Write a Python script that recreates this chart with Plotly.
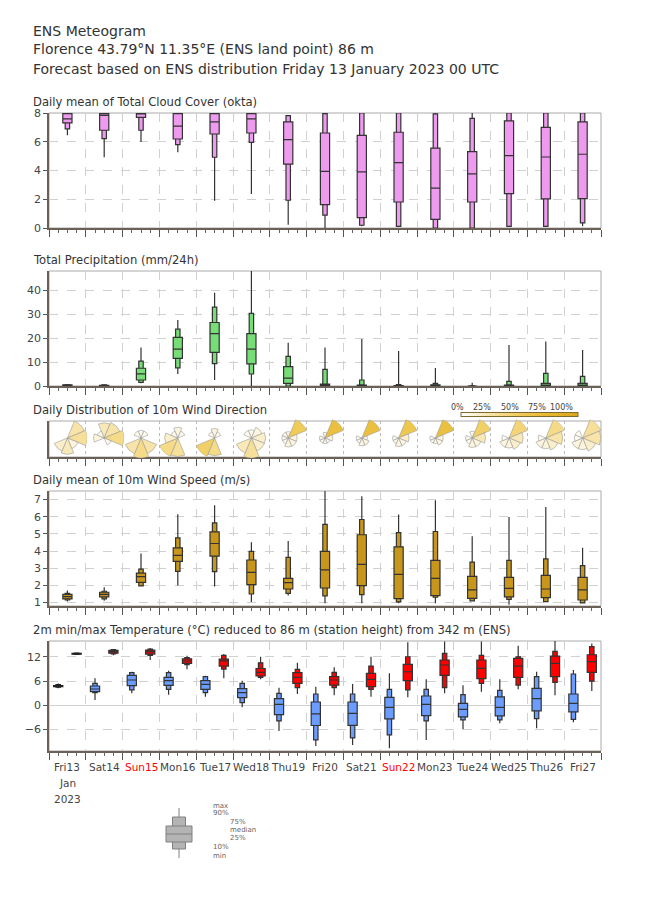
import plotly.graph_objects as go

W, H = 650, 916

days = ["Fri13", "Sat14", "Sun15", "Mon16", "Tue17", "Wed18", "Thu19", "Fri20",
        "Sat21", "Sun22", "Mon23", "Tue24", "Wed25", "Thu26", "Fri27"]

# ensemble percentiles per day: min, p10, p25, median, p75, p90, max
cloud = [
    [6.45, 6.89, 7.31, 7.59, 7.95, 8.0, 8.0],
    [4.92, 6.22, 6.80, 7.84, 7.96, 8.0, 8.0],
    [5.99, 6.80, 7.70, 7.96, 8.0, 8.0, 8.0],
    [5.27, 5.80, 6.19, 7.08, 7.96, 8.0, 8.0],
    [1.90, 4.92, 6.54, 7.38, 7.96, 8.0, 8.0],
    [2.37, 5.96, 6.61, 7.59, 7.96, 8.0, 8.0],
    [0.23, 1.93, 4.45, 6.15, 7.38, 7.82, 7.82],
    [0.0, 0.90, 1.62, 3.94, 6.61, 7.96, 8.0],
    [0.12, 0.19, 0.72, 3.90, 6.45, 8.0, 8.0],
    [0.07, 0.12, 1.81, 4.55, 6.66, 8.0, 8.0],
    [0.0, 0.0, 0.60, 2.78, 5.55, 7.94, 8.0],
    [0.0, 0.0, 1.81, 3.76, 5.31, 7.63, 8.0],
    [0.12, 0.12, 2.39, 5.03, 7.45, 8.0, 8.0],
    [0.12, 0.12, 2.02, 4.94, 7.00, 8.0, 8.0],
    [0.12, 0.35, 2.04, 5.13, 7.38, 8.0, 8.0],
]

precip = [
    [0.0, 0.1, 0.2, 0.3, 0.5, 0.6, 0.8],
    [0.0, 0.0, 0.1, 0.2, 0.3, 0.5, 0.7],
    [1.1, 1.5, 2.5, 5.1, 7.4, 10.4, 16.1],
    [5.0, 7.6, 11.5, 15.4, 20.3, 23.7, 27.5],
    [2.5, 9.3, 14.0, 21.9, 26.5, 32.9, 38.9],
    [0.0, 5.0, 9.2, 15.4, 21.9, 30.3, 50.0],
    [0.0, 0.0, 1.1, 3.3, 8.1, 12.4, 18.1],
    [0.0, 0.0, 0.0, 0.4, 0.8, 6.9, 16.1],
    [0.0, 0.0, 0.0, 0.1, 0.4, 2.5, 19.6],
    [0.0, 0.0, 0.0, 0.0, 0.2, 0.6, 14.6],
    [0.0, 0.0, 0.0, 0.0, 0.5, 1.1, 7.5],
    [0.0, 0.0, 0.0, 0.0, 0.0, 0.1, 1.4],
    [0.0, 0.0, 0.0, 0.0, 0.4, 1.9, 17.1],
    [0.0, 0.0, 0.0, 0.0, 1.1, 5.3, 18.6],
    [0.0, 0.0, 0.0, 0.0, 1.1, 4.0, 15.0],
]

wind = [
    [1.06, 1.15, 1.21, 1.35, 1.48, 1.54, 1.70],
    [1.10, 1.21, 1.33, 1.48, 1.60, 1.66, 1.89],
    [1.93, 1.97, 2.18, 2.51, 2.72, 2.95, 3.86],
    [1.99, 2.82, 3.40, 3.75, 4.19, 4.77, 6.15],
    [1.93, 2.80, 3.71, 4.44, 5.12, 5.64, 6.67],
    [1.04, 1.50, 2.05, 2.76, 3.48, 3.98, 4.52],
    [1.41, 1.54, 1.79, 2.16, 2.41, 3.63, 4.58],
    [0.96, 1.39, 1.85, 2.90, 3.98, 5.55, 7.60],
    [0.96, 1.46, 1.99, 3.23, 4.95, 5.84, 7.19],
    [0.96, 1.04, 1.23, 2.64, 4.25, 5.08, 6.13],
    [0.96, 1.31, 1.41, 2.41, 3.46, 5.14, 6.96],
    [1.06, 1.10, 1.25, 1.74, 2.53, 3.36, 4.87],
    [0.88, 1.19, 1.33, 1.83, 2.47, 3.46, 5.99],
    [1.02, 1.06, 1.29, 1.79, 2.59, 3.55, 6.57],
    [0.94, 0.98, 1.15, 1.74, 2.47, 3.15, 4.19],
]

tmin = [
    [4.2, 4.5, 4.6, 4.8, 4.9, 5.1, 5.4],
    [1.3, 3.13, 3.37, 4.03, 4.77, 5.43, 6.67],
    [2.96, 3.79, 4.86, 6.26, 7.4, 8.07, 8.3],
    [2.63, 3.95, 4.94, 6.1, 6.9, 8.07, 8.56],
    [2.14, 3.13, 3.95, 5.19, 6.1, 7.08, 7.33],
    [-0.49, 0.66, 1.89, 3.13, 4.11, 5.43, 6.1],
    [-6.34, -3.87, -2.3, 0.25, 1.65, 2.96, 4.36],
    [-10.04, -8.56, -5.0, -2.14, 0.82, 2.8, 4.6],
    [-9.79, -8.07, -4.94, -1.98, 0.82, 2.8, 5.27],
    [-10.6, -7.33, -3.37, -0.49, 1.98, 3.95, 7.9],
    [-8.56, -3.87, -2.55, 0.25, 2.3, 3.95, 6.42],
    [-5.93, -3.62, -2.88, -0.99, 0.49, 2.63, 4.94],
    [-4.44, -3.62, -2.63, -0.49, 2.06, 3.7, 6.42],
    [-5.68, -3.29, -1.4, 1.65, 4.2, 7.08, 8.3],
    [-4.2, -3.46, -1.65, 0.49, 2.8, 7.74, 8.72],
]

tmax = [
    [12.5, 12.6, 12.65, 12.76, 12.85, 12.9, 13.0],
    [12.35, 12.7, 12.9, 13.25, 13.6, 13.75, 13.8],
    [11.2, 12.35, 12.67, 13.25, 13.66, 13.9, 14.2],
    [8.9, 10.04, 10.37, 10.95, 11.5, 11.77, 12.26],
    [6.67, 8.97, 9.7, 11.0, 11.44, 12.35, 12.67],
    [6.42, 6.9, 7.24, 8.15, 9.1, 10.5, 12.0],
    [2.8, 4.36, 5.43, 6.9, 8.07, 8.9, 10.53],
    [2.47, 4.36, 5.0, 6.26, 7.08, 8.15, 9.38],
    [2.14, 3.95, 4.6, 6.42, 7.9, 9.7, 12.0],
    [1.98, 3.79, 6.1, 8.3, 10.1, 12.0, 15.6],
    [2.96, 4.36, 7.4, 9.96, 11.2, 12.84, 15.8],
    [3.37, 5.43, 6.58, 9.14, 11.2, 12.35, 15.8],
    [3.95, 5.0, 6.9, 9.7, 11.6, 12.0, 14.7],
    [2.47, 5.68, 7.08, 10.37, 12.18, 13.33, 15.97],
    [3.54, 6.0, 8.15, 10.8, 12.5, 14.5, 15.3],
]

# wind direction frequency (%) per sector N, NE, E, SE, S, SW, W, NW
sectors = [0, 45, 90, 135, 180, 225, 270, 315]
wdir = [
    [0, 25, 30, 10, 20, 15, 0, 0],
    [20, 25, 35, 5, 0, 0, 10, 5],
    [5, 5, 0, 25, 35, 25, 0, 5],
    [10, 5, 0, 0, 30, 35, 15, 5],
    [10, 5, 0, 0, 35, 45, 0, 5],
    [5, 10, 15, 15, 30, 20, 0, 5],
    [5, 50, 10, 10, 10, 5, 5, 5],
    [5, 65, 10, 5, 5, 5, 5, 0],
    [0, 65, 5, 10, 10, 5, 5, 0],
    [0, 55, 15, 10, 10, 5, 5, 0],
    [0, 65, 10, 10, 5, 5, 5, 0],
    [5, 45, 20, 10, 10, 5, 5, 0],
    [0, 40, 20, 15, 10, 10, 5, 0],
    [0, 35, 25, 15, 10, 10, 5, 0],
    [0, 30, 25, 15, 10, 10, 5, 5],
]
pct_ticks = [0, 25, 50, 75, 100]

# schematic legend box
legend_vals = [0, 9, 16, 24, 32, 41, 50]
legend_text = ["max", "90%", "75%", "median", "25%", "10%", "min"]

FONT = "DejaVu Sans"
X0, X1 = 49, 601
panels = {  # pixel top, bottom
    1: (113, 228),
    2: (271, 386),
    3: (421, 457),
    4: (491, 606),
    5: (641, 751),
}


def ydom(top, bot):
    return [1 - bot / H, 1 - top / H]


def px_x(v):
    return X0 + v * (X1 - X0) / 15


fig = go.Figure()


def add_boxes(n, x, stats, fill, line="#333"):
    mn, p10, p25, med, p75, p90, mx = [list(c) for c in zip(*stats)]
    ax = dict(xaxis="x" if n == 1 else f"x{n}", yaxis="y" if n == 1 else f"y{n}")
    fig.add_trace(go.Box(x=x, q1=p10, median=med, q3=p90, lowerfence=mn, upperfence=mx,
                         width=0.12, fillcolor=fill, line=dict(color=line, width=1.2),
                         whiskerwidth=0, boxpoints=False, showlegend=False,
                         hoverinfo="skip", **ax))
    fig.add_trace(go.Box(x=x, q1=p25, median=med, q3=p75, lowerfence=p25, upperfence=p75,
                         width=0.25, fillcolor=fill, line=dict(color=line, width=1.2),
                         whiskerwidth=0, boxpoints=False, showlegend=False,
                         hoverinfo="skip", **ax))


mid = [d + 0.5 for d in range(len(days))]
add_boxes(1, mid, cloud, "#ee9aee")
add_boxes(2, mid, precip, "#77dd77")
fig.add_trace(go.Scatter(x=[], y=[], xaxis="x3", yaxis="y3", showlegend=False))
add_boxes(4, mid, wind, "#c8961a")
# first day boxes are drawn dark
add_boxes(5, [0.25], tmin[:1], "#444444", "#222")
add_boxes(5, [0.75], tmax[:1], "#444444", "#222")
add_boxes(5, [d + 0.25 for d in range(1, len(days))], tmin[1:], "#6a9dff")
add_boxes(5, [d + 0.75 for d in range(1, len(days))], tmax[1:], "#ff0000")

# legend schematic
fig.add_trace(go.Box(x=[0], q1=[legend_vals[1]], median=[legend_vals[3]], q3=[legend_vals[5]],
                     lowerfence=[legend_vals[0]], upperfence=[legend_vals[6]], width=0.25,
                     fillcolor="#b4b4b4", line=dict(color="#808080", width=1), whiskerwidth=0,
                     boxpoints=False, showlegend=False, hoverinfo="skip", xaxis="x6", yaxis="y6"))
fig.add_trace(go.Box(x=[0], q1=[legend_vals[2]], median=[legend_vals[3]], q3=[legend_vals[4]],
                     lowerfence=[legend_vals[2]], upperfence=[legend_vals[4]], width=0.5,
                     fillcolor="#b4b4b4", line=dict(color="#808080", width=1), whiskerwidth=0,
                     boxpoints=False, showlegend=False, hoverinfo="skip", xaxis="x6", yaxis="y6"))

# wind roses
R = 20
cy = (panels[3][0] + panels[3][1]) / 2 - 1
rose_scale = [[0, "#ffffff"], [0.25, "#f8e4a8"], [0.5, "#f0cb58"], [0.75, "#e8b82c"],
              [1, "#d8a41c"]]
layout_polars = {}
for i, freq in enumerate(wdir):
    name = "polar" if i == 0 else f"polar{i + 1}"
    cx = px_x(i + 0.5)
    top = max(freq)
    marker = dict(color=freq, colorscale=rose_scale, cmin=0, cmax=100,
                  line=dict(color="#9a9a9a", width=0.6), showscale=(i == 0))
    if i == 0:
        marker["colorbar"] = dict(orientation="h", x=(461 + 578) / 2 / W, xanchor="center",
                                  y=1 - 415 / H, yanchor="middle", len=117, lenmode="pixels",
                                  thickness=4, xpad=0, ypad=0, outlinecolor="#806a30",
                                  outlinewidth=1, tickvals=pct_ticks, showticklabels=False,
                                  ticks="")
    fig.add_trace(go.Barpolar(r=[(f / top) ** 0.5 for f in freq], theta=sectors, width=45,
                              marker=marker, subplot=name, showlegend=False, hoverinfo="skip"))
    layout_polars[name] = dict(
        domain=dict(x=[(cx - R) / W, (cx + R) / W], y=[1 - (cy + R) / H, 1 - (cy - R) / H]),
        bgcolor="rgba(0,0,0,0)",
        radialaxis=dict(visible=False, range=[0, 1]),
        angularaxis=dict(visible=False, rotation=90, direction="clockwise"),
    )

AXC = "#6b6157"
xax = dict(range=[0, 15], domain=[X0 / W, X1 / W], tickvals=list(range(16)),
           showticklabels=False, ticks="outside", ticklen=7, tickcolor="#555", tickwidth=1,
           showgrid=True, gridcolor="#d0d0d0", griddash="dash", gridwidth=1,
           minor=dict(dtick=0.25, tick0=0, ticks="outside", ticklen=3, tickcolor="#666",
                      showgrid=False),
           showline=True, linecolor=AXC, linewidth=1.5, zeroline=False, fixedrange=True,
           automargin=False)
yax = dict(showline=True, linecolor=AXC, linewidth=1.5, ticks="outside", ticklen=4,
           tickcolor="#555", tickfont=dict(size=11, color="#444"), showgrid=True,
           gridcolor="#d0d0d0", griddash="dash", zeroline=False, fixedrange=True,
           automargin=False)

layout = dict(template="none", width=W, height=H,
              margin=dict(l=0, r=0, t=0, b=0, pad=0, autoexpand=False),
              paper_bgcolor="white", plot_bgcolor="white", boxmode="overlay",
              font=dict(family=FONT, color="#333"), showlegend=False)
yspec = {
    1: dict(range=[0, 8], tickvals=[0, 2, 4, 6, 8]),
    2: dict(range=[0, 48], tickvals=[0, 10, 20, 30, 40]),
    3: dict(range=[0, 1], showticklabels=False, ticks="", showgrid=False),
    4: dict(range=[0.8, 7.5], tickvals=[1, 2, 3, 4, 5, 6, 7]),
    5: dict(range=[-11.3, 15.9], tickvals=[-6, 0, 6, 12], zeroline=True,
            zerolinecolor="#d0d0d0", zerolinewidth=1),
}
shapes = []
for n, (t, b) in panels.items():
    xs = "xaxis" if n == 1 else f"xaxis{n}"
    ys = "yaxis" if n == 1 else f"yaxis{n}"
    layout[xs] = dict(xax, anchor="y" if n == 1 else f"y{n}")
    layout[ys] = dict(yax, domain=ydom(t, b), anchor="x" if n == 1 else f"x{n}", **yspec[n])
    xr = "x" if n == 1 else f"x{n}"
    yr = "y" if n == 1 else f"y{n}"
    shapes.append(dict(type="rect", xref=f"{xr} domain", yref=f"{yr} domain",
                       x0=0, x1=1, y0=0, y1=1, line=dict(color="#aaa", width=1), layer="below"))
layout["xaxis3"]["griddash"] = "dot"
layout["xaxis3"]["gridcolor"] = "#bbb"

layout["xaxis6"] = dict(range=[-0.5, 0.5], domain=[153 / W, 205 / W], visible=False,
                        anchor="y6", fixedrange=True)
layout["yaxis6"] = dict(range=[0, 50], domain=ydom(808, 858), visible=False, anchor="x6",
                        fixedrange=True)
layout.update(layout_polars)
layout["shapes"] = shapes

ann = []
for i, line in enumerate(["ENS Meteogram",
                          "Florence 43.79°N 11.35°E (ENS land point) 86 m",
                          "Forecast based on ENS distribution Friday 13 January 2023 00 UTC"]):
    ann.append(dict(text=line, x=31 / W, y=1 - [31, 49, 69][i] / H, xref="paper", yref="paper",
                    xanchor="left", yanchor="middle", showarrow=False,
                    font=dict(size=14, color="#333")))
titles = {1: "Daily mean of Total Cloud Cover (okta)",
          2: "Total Precipitation (mm/24h)",
          3: "Daily Distribution of 10m Wind Direction",
          4: "Daily mean of 10m Wind Speed (m/s)",
          5: "2m min/max Temperature (°C) reduced to 86 m (station height) from 342 m (ENS)"}
for n, t in titles.items():
    ann.append(dict(text=t, x=31 / W, y=1 - (panels[n][0] - 11) / H, xref="paper",
                    yref="paper", xanchor="left", yanchor="middle", showarrow=False,
                    font=dict(size=11.6, color="#333")))
for i, d in enumerate(days):
    col = "#ff0000" if d.startswith("Sun") else "#444"
    ann.append(dict(text=d, x=i + 0.5, xref="x5", y=1 - 767 / H, yref="paper",
                    yanchor="middle", showarrow=False, font=dict(size=10.5, color=col)))
for k, t in enumerate(["Jan", "2023"]):
    ann.append(dict(text=t, x=0.5, xref="x5", y=1 - (783 + 16 * k) / H, yref="paper",
                    yanchor="middle", showarrow=False, font=dict(size=10.5, color="#444")))
for v in pct_ticks:
    ann.append(dict(text=f"{v}%", x=(466 + v * (575 - 466) / 100) / W, y=1 - 408 / H,
                    xref="paper", yref="paper", yanchor="middle", showarrow=False,
                    font=dict(size=8, color="#444")))
leg_pos = [(211, 806), (211, 813), (228, 822), (228, 830), (228, 838), (211, 847), (211, 856)]
for t, (lx, ly) in zip(legend_text, leg_pos):
    ann.append(dict(text=t, x=lx / W, y=1 - ly / H, xref="paper", yref="paper",
                    xanchor="left", yanchor="middle", showarrow=False,
                    font=dict(size=7, color="#666")))
layout["annotations"] = ann

fig.update_layout(**layout)
fig.write_html("out.html", config={"displayModeBar": False},
               post_script="document.body.style.margin='0';")
